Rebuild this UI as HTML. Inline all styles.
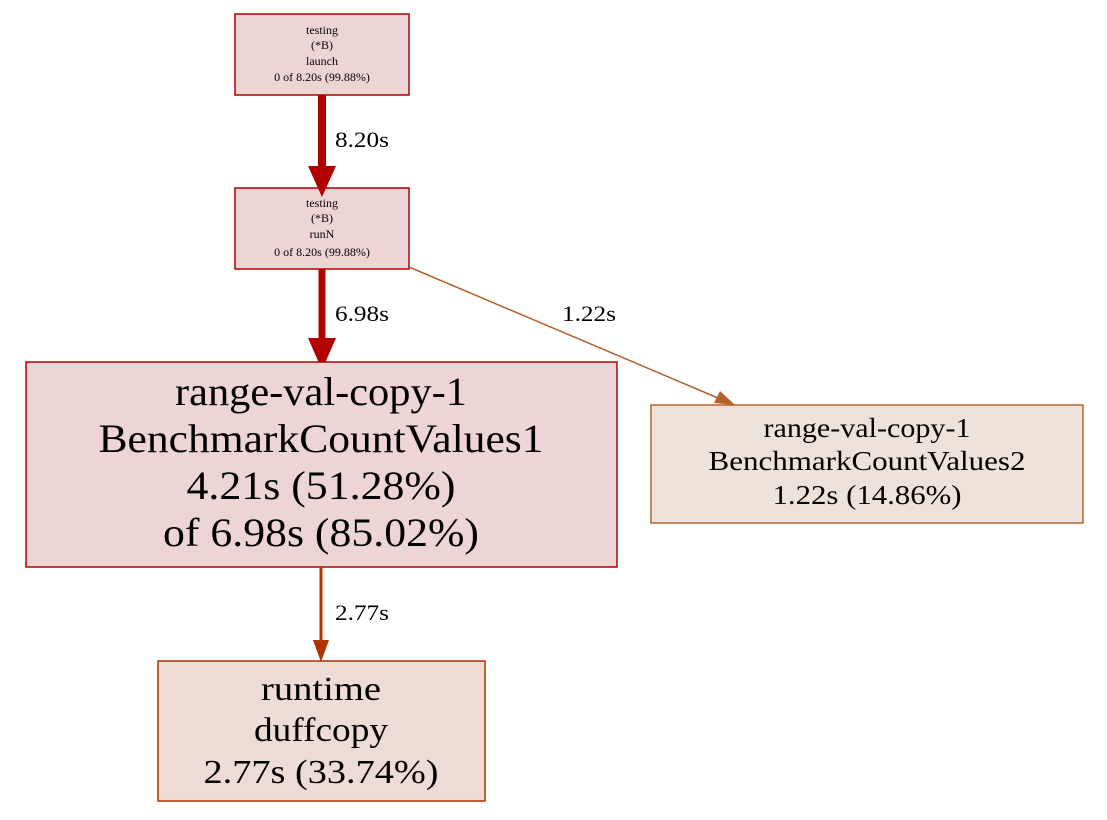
<!DOCTYPE html>
<html><head><style>body{margin:0;background:#fff}svg{display:block}</style></head><body>
<svg width="1107" height="820" xmlns="http://www.w3.org/2000/svg" font-family="'Liberation Serif',serif" text-anchor="middle">
<rect x="235" y="14" width="174" height="81" fill="#edd5d5" stroke="#b20000" stroke-width="1.5"/>
<g font-size="12"><text x="322" y="34">testing</text><text x="322" y="49">(*B)</text><text x="322" y="65">launch</text><text x="322" y="81">0 of 8.20s (99.88%)</text></g>
<rect x="235" y="188" width="174" height="81" fill="#edd5d5" stroke="#b20000" stroke-width="1.5"/>
<g font-size="12"><text x="322" y="207">testing</text><text x="322" y="222">(*B)</text><text x="322" y="238">runN</text><text x="322" y="256">0 of 8.20s (99.88%)</text></g>
<line x1="322" y1="95" x2="322" y2="168" stroke="#b20000" stroke-width="8"/>
<polygon points="308,166 336,166 322,197" fill="#b20000"/>
<text x="335" y="147" font-size="22" text-anchor="start" textLength="54" lengthAdjust="spacingAndGlyphs">8.20s</text>
<line x1="322" y1="269" x2="322" y2="340" stroke="#b20000" stroke-width="7"/>
<polygon points="308,338 336,338 322,370" fill="#b20000"/>
<text x="335" y="321" font-size="22" text-anchor="start" textLength="54" lengthAdjust="spacingAndGlyphs">6.98s</text>
<line x1="409" y1="267" x2="718" y2="398" stroke="#b2622a" stroke-width="1.5"/>
<polygon points="714,403 720,391 735,405" fill="#b2622a"/>
<text x="562" y="321" font-size="22" text-anchor="start" textLength="54" lengthAdjust="spacingAndGlyphs">1.22s</text>
<rect x="26" y="362" width="591" height="205" fill="#edd5d5" stroke="#b20000" stroke-width="1.5"/>
<g font-size="40" lengthAdjust="spacingAndGlyphs">
<text x="321" y="405" textLength="292" lengthAdjust="spacingAndGlyphs">range-val-copy-1</text>
<text x="321" y="452" textLength="445" lengthAdjust="spacingAndGlyphs">BenchmarkCountValues1</text>
<text x="321" y="499" textLength="269" lengthAdjust="spacingAndGlyphs">4.21s (51.28%)</text>
<text x="321" y="546" textLength="316" lengthAdjust="spacingAndGlyphs">of 6.98s (85.02%)</text></g>
<rect x="651" y="405" width="432" height="118" fill="#ede2da" stroke="#b2622a" stroke-width="1.5"/>
<g font-size="27">
<text x="867" y="437" textLength="207" lengthAdjust="spacingAndGlyphs">range-val-copy-1</text>
<text x="867" y="470" textLength="317" lengthAdjust="spacingAndGlyphs">BenchmarkCountValues2</text>
<text x="867" y="504" textLength="189" lengthAdjust="spacingAndGlyphs">1.22s (14.86%)</text></g>
<line x1="321" y1="567" x2="321" y2="642" stroke="#b23200" stroke-width="3"/>
<polygon points="313,640 329,640 321,662" fill="#b23200"/>
<text x="335" y="620" font-size="22" text-anchor="start" textLength="54" lengthAdjust="spacingAndGlyphs">2.77s</text>
<rect x="158" y="661" width="327" height="140" fill="#eddbd5" stroke="#b23200" stroke-width="1.5"/>
<g font-size="34">
<text x="321" y="700" textLength="120" lengthAdjust="spacingAndGlyphs">runtime</text>
<text x="321" y="741" textLength="134" lengthAdjust="spacingAndGlyphs">duffcopy</text>
<text x="321" y="783" textLength="235" lengthAdjust="spacingAndGlyphs">2.77s (33.74%)</text></g>
</svg>
</body></html>
